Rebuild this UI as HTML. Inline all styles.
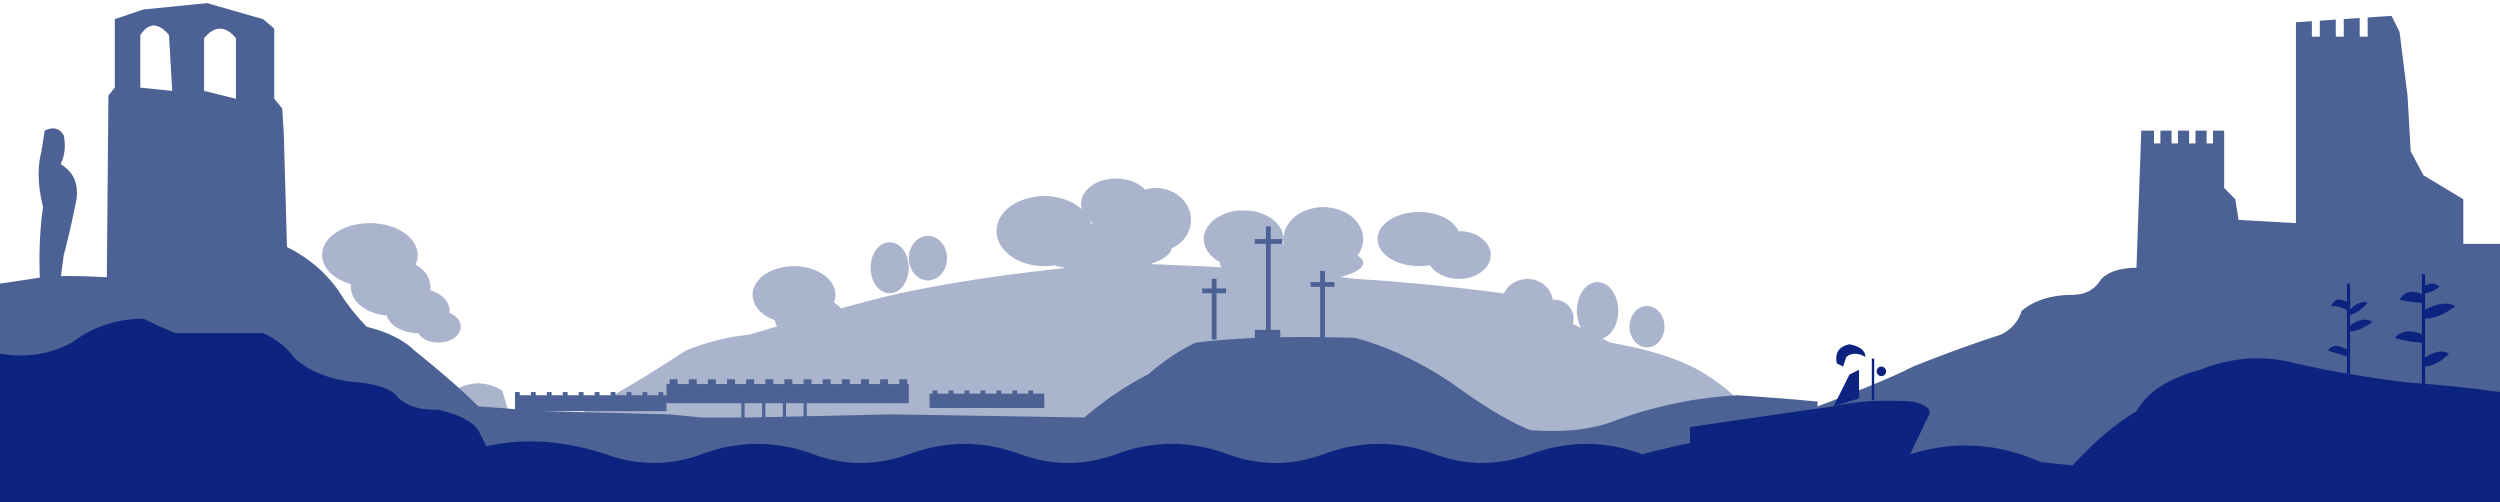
<!DOCTYPE html>
<html><head><meta charset="utf-8"><style>
html,body{margin:0;padding:0;background:#fff;width:2500px;height:502px;overflow:hidden}
svg{display:block}
</style></head><body>
<svg width="2500" height="502" viewBox="0 0 1568 315" preserveAspectRatio="none" xmlns="http://www.w3.org/2000/svg">
<rect width="1568" height="315" fill="#fff"/>
<g fill="#aab4cc">
<ellipse cx="232" cy="160" rx="30" ry="20"/><ellipse cx="245" cy="180" rx="25" ry="18"/><ellipse cx="262" cy="195" rx="20" ry="14"/><ellipse cx="275" cy="205" rx="14" ry="10"/>
<path d="M285 245 Q300 236 315 245 L320 262 L285 262Z"/>
<path d="M360 262 Q400 240 430 220 Q450 212 470 210 Q520 195 560 185 Q620 172 700 165 Q800 168 850 175 Q900 178 950 185 Q990 205 1010 215 Q1050 222 1070 235 Q1090 248 1100 262 L1100 275 L360 275Z"/>
<ellipse cx="498" cy="185" rx="26" ry="18"/><ellipse cx="508" cy="200" rx="22" ry="14"/>
<ellipse cx="558" cy="168" rx="12" ry="16"/><ellipse cx="582" cy="162" rx="12" ry="14"/>
<ellipse cx="655" cy="145" rx="30" ry="22"/><ellipse cx="700" cy="128" rx="22" ry="16"/><ellipse cx="725" cy="138" rx="22" ry="20"/><ellipse cx="690" cy="155" rx="45" ry="15"/>
<ellipse cx="780" cy="150" rx="25" ry="18"/><ellipse cx="830" cy="150" rx="25" ry="20"/><ellipse cx="810" cy="165" rx="45" ry="12"/>
<ellipse cx="890" cy="150" rx="26" ry="17"/><ellipse cx="915" cy="160" rx="20" ry="15"/>
<ellipse cx="958" cy="190" rx="16" ry="15"/><ellipse cx="975" cy="200" rx="12" ry="12"/>
<ellipse cx="1002" cy="195" rx="13" ry="18"/><ellipse cx="1033" cy="205" rx="11" ry="13"/>
</g>
<g fill="#4d6294">
<path d="M0 178 L20 175 Q35 172 67 174 L68 60 L72 55 L72 12 L90 6 L130 2 L165 12 L172 18 L172 62 L177 68 L178 84 L180 155 Q200 165 212 182 Q220 195 230 205 Q250 210 260 220 Q285 240 300 255 L340 262 L340 300 L0 300Z"/>
<path d="M25 175 Q24 150 27 130 Q22 110 26 95 L28 82 Q36 78 40 85 Q42 95 38 103 Q50 110 48 125 Q44 145 40 160 L38 175Z"/>
<path d="M300 255 L340 258 L420 260 L440 262 L470 262 L560 260 L680 262 Q700 245 720 235 Q735 222 750 215 Q790 210 850 212 Q880 220 910 240 Q940 262 960 270 Q990 272 1010 265 Q1050 250 1090 248 Q1120 250 1140 252 L1140 300 L300 300Z"/>
<rect x="323" y="248" width="95" height="10"/><rect x="418" y="241" width="152" height="12"/><rect x="583" y="247" width="72" height="9"/>
<rect x="465" y="252" width="2" height="12"/><rect x="478" y="252" width="2" height="12"/><rect x="491" y="252" width="2" height="12"/><rect x="504" y="252" width="2" height="12"/>
<g>
<rect x="323" y="246" width="3" height="4"/><rect x="333" y="246" width="3" height="4"/><rect x="343" y="246" width="3" height="4"/><rect x="353" y="246" width="3" height="4"/><rect x="363" y="246" width="3" height="4"/><rect x="373" y="246" width="3" height="4"/><rect x="383" y="246" width="3" height="4"/><rect x="393" y="246" width="3" height="4"/><rect x="403" y="246" width="3" height="4"/><rect x="413" y="246" width="3" height="4"/>
<rect x="420" y="238" width="5" height="4"/><rect x="432" y="238" width="5" height="4"/><rect x="444" y="238" width="5" height="4"/><rect x="456" y="238" width="5" height="4"/><rect x="468" y="238" width="5" height="4"/><rect x="480" y="238" width="5" height="4"/><rect x="492" y="238" width="5" height="4"/><rect x="504" y="238" width="5" height="4"/><rect x="516" y="238" width="5" height="4"/><rect x="528" y="238" width="5" height="4"/><rect x="540" y="238" width="5" height="4"/><rect x="552" y="238" width="5" height="4"/><rect x="564" y="238" width="5" height="4"/>
<rect x="585" y="245" width="3" height="3"/><rect x="595" y="245" width="3" height="3"/><rect x="605" y="245" width="3" height="3"/><rect x="615" y="245" width="3" height="3"/><rect x="625" y="245" width="3" height="3"/><rect x="635" y="245" width="3" height="3"/><rect x="645" y="245" width="3" height="3"/>
</g>
<rect x="794" y="142" width="3" height="70"/><rect x="787" y="150" width="17" height="3"/><rect x="787" y="207" width="16" height="6"/>
<rect x="828" y="170" width="3" height="42"/><rect x="822" y="177" width="15" height="3"/>
<rect x="760" y="175" width="3" height="38"/><rect x="754" y="181" width="15" height="3"/>
<path d="M1140 255 Q1180 240 1200 230 Q1230 218 1255 210 Q1265 205 1268 195 Q1280 185 1300 185 Q1312 185 1318 175 Q1325 168 1340 168 L1343 82 L1395 82 L1395 118 L1402 125 L1404 138 L1440 140 L1440 14 L1500 10 L1505 20 L1510 60 L1512 95 L1520 110 L1545 125 L1545 153 L1568 153 L1568 300 L1140 300Z"/>
</g>
<g fill="#fff">
<path d="M88 55 L88 22 Q96 10 106 22 L108 57Z"/><path d="M128 57 L128 24 Q138 12 148 24 L148 62Z"/>
<rect x="1351" y="78" width="4" height="12"/><rect x="1362" y="78" width="4" height="12"/><rect x="1373" y="78" width="4" height="12"/><rect x="1384" y="78" width="4" height="12"/>
<rect x="1450" y="10" width="5" height="13"/><rect x="1465" y="10" width="5" height="13"/><rect x="1480" y="10" width="5" height="13"/>
</g>
<g fill="#0c2380">
<path d="M0 222 Q25 226 45 215 Q65 200 90 200 Q100 205 110 209 L165 209 Q178 215 185 225 Q200 238 225 240 Q245 242 250 250 Q260 258 275 257 Q295 262 300 270 L305 280 Q340 272 380 285 Q410 296 440 285 Q475 272 510 285 Q540 296 570 285 Q605 272 640 285 Q670 296 700 285 Q735 272 770 285 Q800 296 830 285 Q865 272 900 285 Q930 296 960 285 Q995 272 1030 285 Q1050 280 1060 278 L1060 268 Q1100 262 1150 255 Q1170 250 1200 252 Q1212 255 1210 260 L1198 285 Q1240 272 1280 290 L1300 292 Q1320 270 1340 258 Q1350 240 1380 232 Q1410 220 1440 228 Q1470 235 1510 240 Q1540 242 1568 246 L1568 315 L0 315Z"/>
<path d="M1150 255 L1160 235 L1166 232 L1166 250Z"/>
<path d="M1152 228 Q1150 218 1160 216 Q1170 218 1170 224 Q1163 220 1158 224 L1156 230Z"/>
<rect x="1174" y="225" width="1.5" height="26"/><circle cx="1180" cy="233" r="3"/>
<rect x="1472" y="178" width="2" height="60"/>
<path d="M1473 190 Q1465 185 1462 192 Q1468 192 1473 195Z M1473 205 Q1482 198 1488 202 Q1480 208 1473 208Z M1473 220 Q1464 214 1460 220 Q1467 222 1473 224Z M1473 195 Q1480 188 1485 190 Q1480 196 1473 198Z"/>
<rect x="1519" y="172" width="2" height="70"/>
<path d="M1520 185 Q1510 180 1505 188 Q1513 190 1520 190Z M1520 195 Q1532 188 1540 192 Q1530 200 1520 200Z M1520 210 Q1508 205 1502 212 Q1512 215 1520 215Z M1520 225 Q1530 218 1536 222 Q1528 230 1520 230Z M1520 180 Q1526 176 1530 180 Q1525 184 1520 184Z"/>
</g>
</svg>
</body></html>
